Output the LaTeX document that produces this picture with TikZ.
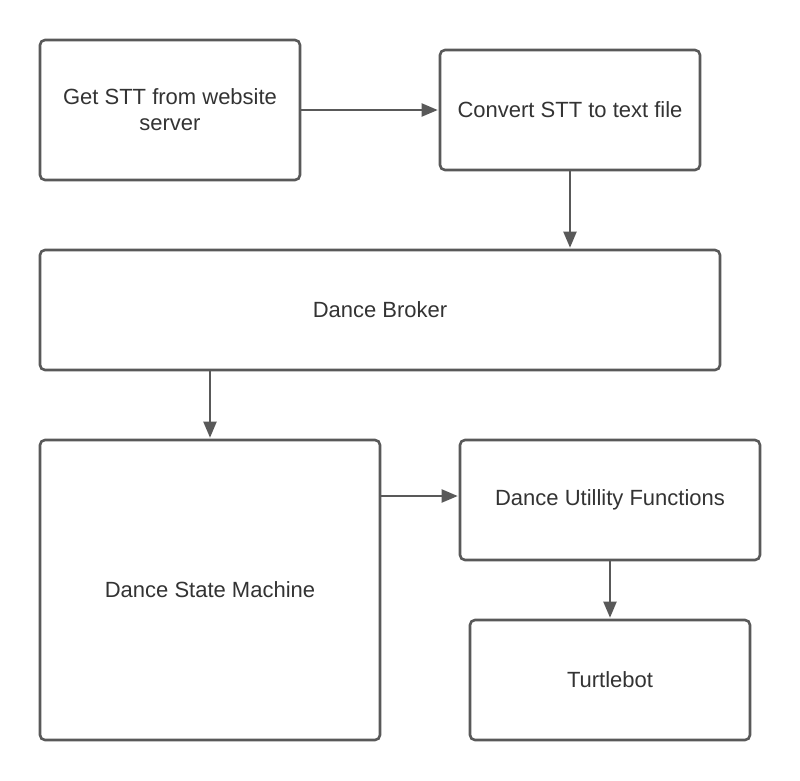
\documentclass[tikz,border=0pt]{standalone}
\usepackage{fontspec}
\setmainfont{Liberation Sans}
\usetikzlibrary{arrows.meta}
\definecolor{linec}{HTML}{595959}
\definecolor{textc}{HTML}{333333}
\tikzset{
  box/.style={draw=linec, line width=2.6pt, rounded corners=5pt, fill=white, font=\fontsize{22}{26}\selectfont, text=textc, align=center},
  conn/.style={draw=linec, line width=2pt, -{Triangle[length=16pt,width=13pt]}, shorten >=1pt}
}
\begin{document}
\begin{tikzpicture}[x=1pt,y=-1pt]
\useasboundingbox (0,0) rectangle (800,780);
\node[box, minimum width=260pt, minimum height=140pt] (get) at (170,110) {Get STT from website\\server};
\node[box, minimum width=260pt, minimum height=120pt] (conv) at (570,110) {Convert STT to text file};
\node[box, minimum width=680pt, minimum height=120pt] (broker) at (380,310) {Dance Broker};
\node[box, minimum width=340pt, minimum height=300pt] (dsm) at (210,590) {Dance State Machine};
\node[box, minimum width=300pt, minimum height=120pt] (util) at (610,500) {Dance Utillity Functions};
\node[box, minimum width=280pt, minimum height=120pt] (turtle) at (610,680) {Turtlebot};
\draw[conn] (get.east) -- (conv.west);
\draw[conn] (conv.south) -- (conv.south |- broker.north);
\draw[conn] (broker.south -| dsm.north) -- (dsm.north);
\draw[conn] ([yshift=4pt]dsm.east |- util.west) -- ([yshift=4pt]util.west);
\draw[conn] (util.south) -- (turtle.north);
\end{tikzpicture}
\end{document}
